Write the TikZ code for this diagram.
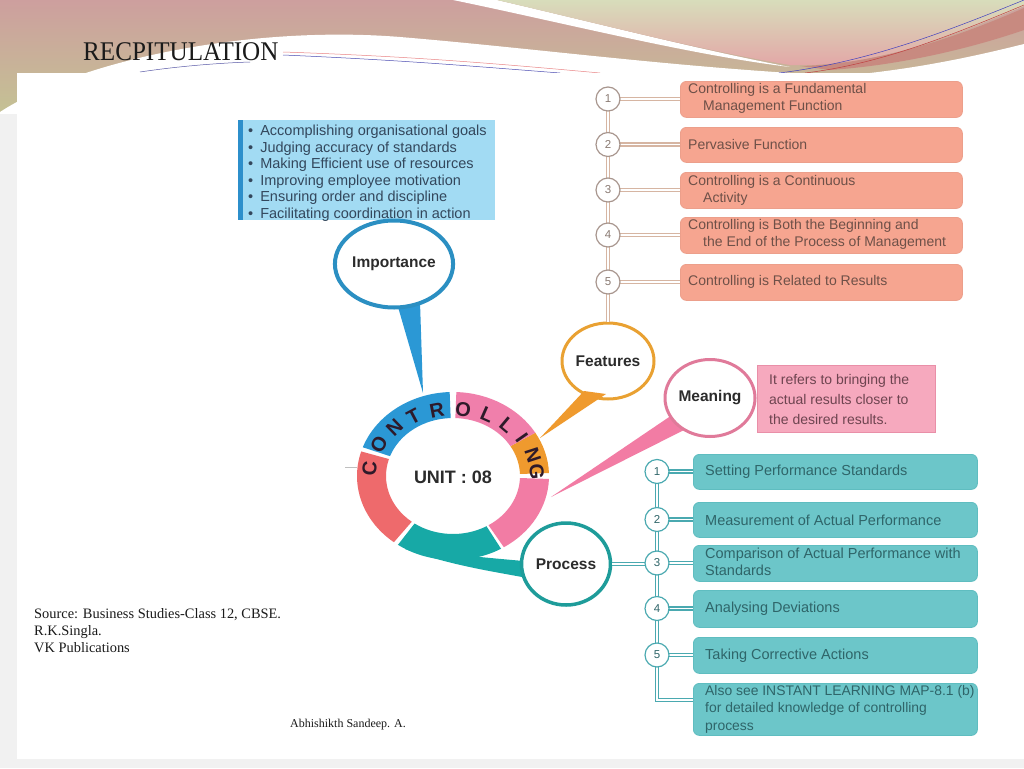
\documentclass[tikz,border=0pt]{standalone}
\usepackage{fontspec}
\setmainfont{Liberation Serif}
\newfontfamily\sansf{Liberation Sans}
\usetikzlibrary{shapes.geometric}
\definecolor{hmauve}{HTML}{CD9F9E}
\definecolor{holive}{HTML}{C4C294}
\definecolor{hgreen}{HTML}{D8DDBB}
\definecolor{hpink}{HTML}{E3A5A6}
\definecolor{hmaroon}{HTML}{C88A80}
\definecolor{hgray}{HTML}{F1F1F1}
\definecolor{titlec}{HTML}{1A1A1A}
\definecolor{ftan}{HTML}{D6B5A2}
\definecolor{fnumb}{HTML}{A8968E}
\definecolor{fnumt}{HTML}{8A7A72}
\definecolor{fsalmon}{HTML}{F6A590}
\definecolor{fsalmonb}{HTML}{EC9F8B}
\definecolor{ftextc}{HTML}{6E5048}
\definecolor{pline}{HTML}{4AA9B0}
\definecolor{pfill}{HTML}{6CC6C9}
\definecolor{pfillb}{HTML}{5FBDC0}
\definecolor{ptextc}{HTML}{2F6569}
\definecolor{impfill}{HTML}{A2DBF3}
\definecolor{impbar}{HTML}{2C8FCB}
\definecolor{imptext}{HTML}{33475C}
\definecolor{meanfill}{HTML}{F6A9BE}
\definecolor{meanb}{HTML}{E98FA8}
\definecolor{meantext}{HTML}{6E4450}
\definecolor{rblue}{HTML}{2B98D5}
\definecolor{rpink}{HTML}{F07FAB}
\definecolor{rpinkb}{HTML}{F27CA4}
\definecolor{rorange}{HTML}{EF9A2E}
\definecolor{rteal}{HTML}{17A9A6}
\definecolor{rred}{HTML}{EE6A6C}
\definecolor{cimp}{HTML}{2B8FC2}
\definecolor{cfeat}{HTML}{E9A132}
\definecolor{cmean}{HTML}{E07A9A}
\definecolor{cproc}{HTML}{1E9C9A}
\definecolor{lettc}{HTML}{2E1A2A}
\definecolor{labelc}{HTML}{2B2B2B}
\newcommand\ringseg[3]{\fill[#1] (#2:96 and 84) arc[start angle=#2, end angle=#3, x radius=96, y radius=84] -- (#3:67 and 58) arc[start angle=#3, end angle=#2, x radius=67, y radius=58] -- cycle;}
\tikzset{
  fbox/.style={rounded corners=6pt, fill=fsalmon, draw=fsalmonb, line width=0.8pt, minimum width=282pt, anchor=north west, inner sep=0},
  ftext/.style={anchor=west, align=left, inner sep=0, text=ftextc, font=\sansf\fontsize{14}{17}\selectfont},
  pbox/.style={rounded corners=6pt, fill=pfill, draw=pfillb, line width=0.8pt, minimum width=284pt, anchor=north west, inner sep=0},
  ptext/.style={anchor=west, align=left, inner sep=0, text=ptextc, font=\sansf\fontsize{14.5}{17.5}\selectfont},
  fnum/.style={circle, draw=fnumb, line width=1.2pt, fill=white, minimum size=24pt, inner sep=0, text=fnumt, font=\sansf\fontsize{11.5}{11.5}\selectfont},
  pnum/.style={circle, draw=pline, line width=1.2pt, fill=white, minimum size=24pt, inner sep=0, text=ptextc, font=\sansf\fontsize{11.5}{11.5}\selectfont},
  fline/.style={draw=ftan, double=white, double distance=1.6pt, line width=1.4pt},
  pline/.style={draw=pline, double=white, double distance=1.6pt, line width=1.4pt},
  bubble/.style={ellipse, fill=white, inner sep=0, text=labelc, font=\sansf\bfseries\fontsize{15.5}{16}\selectfont},
  ringletter/.style={inner sep=0, text=lettc, font=\sansf\bfseries\fontsize{20}{20}\selectfont},
}
\begin{document}
\begin{tikzpicture}[x=1pt,y=-1pt]
\useasboundingbox (0,0) rectangle (1024,768);
% ---------- header ----------
\shade[top color=hmauve, bottom color=holive] (0,0) rectangle (1024,115);
\fill[white] (0,112) .. controls (80,60) and (250,25) .. (400,37) .. controls (520,47) and (650,64) .. (790,73) -- (1024,73) -- (1024,115) -- (0,115) -- cycle;
\fill[white] (453,0) .. controls (560,22) and (690,55) .. (790,67) .. controls (700,50) and (600,24) .. (497,0) -- cycle;
\shade[top color=hgreen, bottom color=hpink] (497,0) .. controls (600,24) and (700,50) .. (790,65) .. controls (880,68) and (960,32) .. (1024,6) -- (1024,0) -- cycle;
\fill[hmaroon] (800,66) .. controls (880,64) and (960,36) .. (1024,8) -- (1024,30) .. controls (960,52) and (890,66) .. (830,70) -- cycle;
\fill[white] (870,73) .. controls (930,66) and (980,55) .. (1024,44) -- (1024,73) -- cycle;
\draw[color=hpink!80!red, line width=0.5pt] (283,52) .. controls (400,56) and (480,62) .. (600,73);
\draw[color=blue!40!gray, line width=0.5pt] (283,55) .. controls (400,60) and (470,66) .. (560,73);
\draw[color=blue!30!gray, line width=0.5pt] (140,72) .. controls (180,66) and (220,63) .. (250,62);
\draw[color=blue!50!gray, line width=0.5pt] (1024,0) .. controls (950,30) and (870,62) .. (779,73);
\draw[color=red!50!gray, line width=0.5pt] (1024,5) .. controls (950,36) and (880,64) .. (805,73);
\fill[hgray] (0,114) rectangle (17,768);
\fill[hgray] (0,759) rectangle (1024,768);
\fill[white] (17,73) rectangle (1024,759);
\node[anchor=west, inner sep=0, text=titlec, xscale=0.93, font=\fontsize{27}{27}\selectfont] (title) at (83,52) {RECPITULATION};
% ---------- importance box ----------
\node[fill=impfill, minimum width=257pt, minimum height=100pt, anchor=north west, inner sep=0] (impbox) at (238,120) {};
\fill[impbar] (impbox.north west) rectangle ([xshift=5pt]impbox.south west);
\node[anchor=west, align=left, inner sep=0, text=imptext, font=\sansf\fontsize{14.5}{16.5}\selectfont] (imptext) at (248,173)
 {\textbullet\hspace{7pt}Accomplishing organisational goals\\
  \textbullet\hspace{7pt}Judging accuracy of standards\\
  \textbullet\hspace{7pt}Making Efficient use of resources\\
  \textbullet\hspace{7pt}Improving employee motivation\\
  \textbullet\hspace{7pt}Ensuring order and discipline\\
  \textbullet\hspace{7pt}Facilitating coordination in action};
% ---------- features ----------
\node[fbox, minimum height=36pt] (f1) at (680,81) {};
\node[fbox, minimum height=35pt] (f2) at (680,127) {};
\node[fbox, minimum height=36pt] (f3) at (680,172) {};
\node[fbox, minimum height=36pt] (f4) at (680,217) {};
\node[fbox, minimum height=36pt] (f5) at (680,264) {};
\node[ftext] (ft1) at (688,98) {Controlling is a Fundamental\\\hspace*{15pt}Management Function};
\node[ftext] (ft2) at (688,144.5) {Pervasive Function};
\node[ftext] (ft3) at (688,190) {Controlling is a Continuous\\\hspace*{15pt}Activity};
\node[ftext] (ft4) at (688,234.5) {Controlling is Both the Beginning and\\\hspace*{15pt}the End of the Process of Management};
\node[ftext] (ft5) at (688,282) {Controlling is Related to Results};
\coordinate (n1p) at (608,99);
\coordinate (n2p) at (608,144.5);
\coordinate (n3p) at (608,190);
\coordinate (n4p) at (608,235);
\coordinate (n5p) at (608,282);
\node[bubble, draw=cfeat, line width=3pt, minimum width=92pt, minimum height=76pt] (feat) at (608,361) {Features};
\draw[fline] (n1p) -- (feat.north);
\foreach \i in {1,...,5} {\draw[fline] (n\i p) -- (n\i p -| f\i.west);}
\foreach \i in {1,...,5} {\node[fnum] (n\i) at (n\i p) {\i};}
% ---------- process ----------
\node[pbox, minimum height=35pt] (pb1) at (693,454) {};
\node[pbox, minimum height=35pt] (pb2) at (693,502) {};
\node[pbox, minimum height=36pt] (pb3) at (693,545) {};
\node[pbox, minimum height=37pt] (pb4) at (693,590) {};
\node[pbox, minimum height=36pt] (pb5) at (693,637) {};
\node[pbox, minimum height=52pt] (pb6) at (693,683) {};
\node[ptext] (pt1) at (705,472) {Setting Performance Standards};
\node[ptext] (pt2) at (705,520) {Measurement of Actual Performance};
\node[ptext] (pt3) at (705,562) {Comparison of Actual Performance with\\Standards};
\node[ptext] (pt4) at (705,608.5) {Analysing Deviations};
\node[ptext] (pt5) at (705,655.5) {Taking Corrective Actions};
\node[ptext, font=\sansf\fontsize{13.9}{17.5}\selectfont] (pt6) at (705,709) {Also see INSTANT LEARNING MAP-8.1 (b)\\for detailed knowledge of controlling\\process};
\coordinate (p1p) at (657,471.5);
\coordinate (p2p) at (657,519.5);
\coordinate (p3p) at (657,563);
\coordinate (p4p) at (657,608.5);
\coordinate (p5p) at (657,655);
\coordinate (pcorner) at (657,700);
\draw[pline] (p1p) -- (pcorner) -- (pcorner -| pb6.west);
\foreach \i in {1,...,5} {\draw[pline] (p\i p) -- (p\i p -| pb\i.west);}
% ---------- meaning ----------
\node[fill=meanfill, draw=meanb, line width=0.8pt, minimum width=178pt, minimum height=67pt, anchor=north west, inner sep=0] (meanbox) at (757,365) {};
\node[anchor=west, align=left, inner sep=0, text=meantext, font=\sansf\fontsize{14}{20}\selectfont] (meantxt) at (769,399) {It refers to bringing the\\actual results closer to\\the desired results.};
% ---------- wedges ----------
\fill[rblue] (396,300) -- (420,302) -- (423,393) -- cycle;
\fill[rorange] (584,391) -- (606,394) -- (540,438) -- cycle;
\fill[rpinkb] (678,411) -- (692,426) -- (551,497) -- cycle;
\fill[rteal] (405,549) .. controls (450,565) and (490,571) .. (522,577) -- (524,561) .. controls (500,559) and (480,557) .. (460,555) -- cycle;
% ---------- ring ----------
\begin{scope}[shift={(453,476)}, x=1pt, y=1pt]
\ringseg{rblue}{92}{160}
\ringseg{rred}{163}{232}
\ringseg{rteal}{235}{300}
\ringseg{rpinkb}{302}{358}
\ringseg{rorange}{2}{31}
\ringseg{rpink}{31}{88}
\foreach \ch/\ang [count=\k] in {C/174,O/152,N/134,T/118,R/101,O/83,L/66,L/50,I/35,N/18,G/4}
  {\node[ringletter, rotate=\ang-90] (rl\k) at (\ang:84 and 67) {\ch};}
\end{scope}
\node[inner sep=0, text=labelc, font=\sansf\bfseries\fontsize{18}{18}\selectfont] (unit) at (453,477) {UNIT : 08};
\coordinate (stubA) at (345,467);
\coordinate (stubB) at (357,467);
\draw[gray!50, line width=0.8pt] (stubA) -- (stubB);
% ---------- bubbles ----------
\node[bubble, draw=cimp, line width=4pt, minimum width=104pt, minimum height=87pt] (imp) at (394,264) {Importance};
\node[bubble, draw=cmean, line width=3pt, minimum width=90pt, minimum height=77pt] (mean) at (710,398) {Meaning};
\node[bubble, draw=cproc, line width=3.5pt, minimum width=89pt, minimum height=82pt] (proc) at (566,564) {Process};
\draw[pline] (proc.east) -- (proc.east -| p3p);
\foreach \i in {1,...,5} {\node[pnum] (p\i) at (p\i p) {\i};}
% ---------- source ----------
\node[anchor=west, align=left, inner sep=0, text=titlec, font=\fontsize{14.4}{17}\selectfont] (src) at (34,631) {Source: Business Studies-Class 12, CBSE.\\R.K.Singla.\\VK Publications};
\node[anchor=west, inner sep=0, text=titlec, font=\fontsize{12}{12}\selectfont] (author) at (290,725) {Abhishikth Sandeep. A.};
\end{tikzpicture}
\end{document}
